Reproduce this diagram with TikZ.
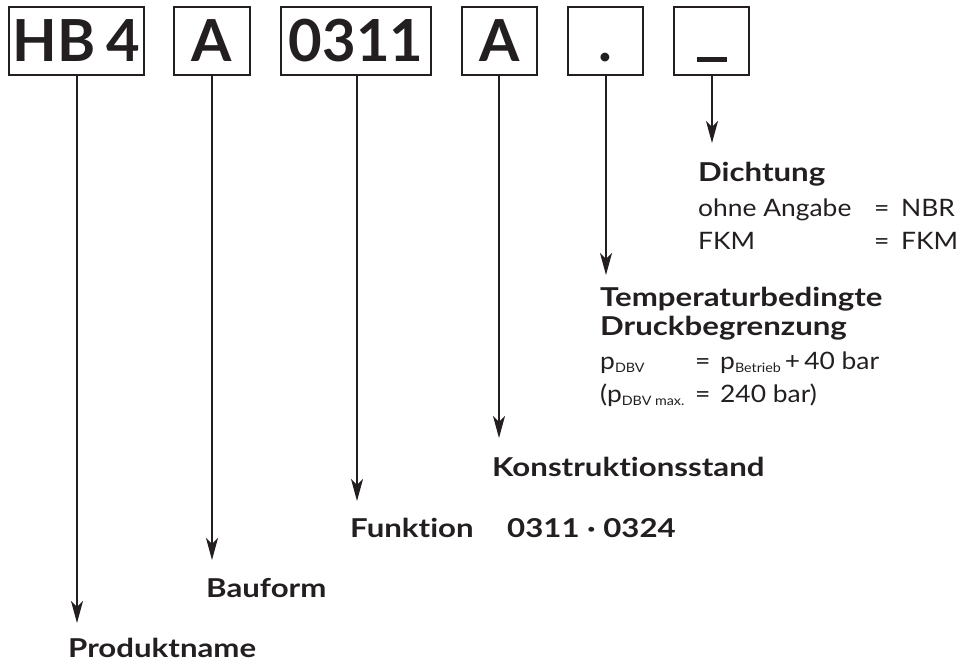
\documentclass[tikz,border=0pt]{standalone}
\usepackage{fontspec}
\setmainfont{Lato}[Ligatures=NoCommon]
\newfontfamily\headfont{Lato}[FakeStretch=1.2, Ligatures=NoCommon]
\newfontfamily\bodyfont{Lato}[FakeStretch=1.1, Ligatures=NoCommon]
\usetikzlibrary{arrows.meta}
\definecolor{ink}{RGB}{35,31,32}
\newcommand{\tabto}[2]{\makebox[#1][l]{#2}}
\newcommand{\idx}[1]{\raisebox{-3pt}{\fontsize{13pt}{14pt}\selectfont #1}}
\tikzset{
  kbox/.style={draw=ink, text=ink, line width=1.4pt, minimum height=68pt, inner sep=0pt,
    text height=42pt, text depth=0pt, font=\bfseries\fontsize{58pt}{60pt}\selectfont},
  head/.style={anchor=base west, inner sep=0pt, text=ink, font=\headfont\bfseries\fontsize{26pt}{28pt}\selectfont},
  body/.style={anchor=base west, inner sep=0pt, text=ink, font=\bodyfont\fontsize{24pt}{28pt}\selectfont},
  pfeil/.style={draw=ink, line width=1.3pt, -{Stealth[length=22pt, width=12pt, inset=6pt]}}
}
\begin{document}
\begin{tikzpicture}[x=1pt, y=-1pt]
  \useasboundingbox (0,0) rectangle (962,663);
  \node[kbox, minimum width=135pt] (hb) at (76.5,41) {HB\kern-3pt\ 4};
  \node[kbox, minimum width=76pt] (bau) at (212,41) {A};
  \node[kbox, minimum width=150pt] (fkt) at (356,41) {0311};
  \node[kbox, minimum width=75pt] (kst) at (499.5,41) {A};
  \node[kbox, minimum width=75pt] (dbv) at (605.5,41) {.};
  \node[kbox, minimum width=75pt] (dch) at (711.5,41) {\rule{30pt}{5pt}};

  \coordinate (hbend) at (77,623);
  \coordinate (bauend) at (212,560);
  \coordinate (fktend) at (357,501);
  \coordinate (kstend) at (499,438);
  \coordinate (dbvend) at (606,275);
  \coordinate (dchend) at (712,143);

  \draw[pfeil] (hb.south -| hbend) -- (hbend);
  \draw[pfeil] (bau.south -| bauend) -- (bauend);
  \draw[pfeil] (fkt.south -| fktend) -- (fktend);
  \draw[pfeil] (kst.south -| kstend) -- (kstend);
  \draw[pfeil] (dbv.south -| dbvend) -- (dbvend);
  \draw[pfeil] (dch.south -| dchend) -- (dchend);

  \node[head] (dichtung) at (698,182) {Dichtung};
  \node[body] (dichtungA) at (698,217) {\tabto{176pt}{ohne Angabe}\tabto{27pt}{=}NBR};
  \node[body] (dichtungB) at (698,250) {\tabto{176pt}{FKM}\tabto{27pt}{=}FKM};

  \node[head] (temp) at (600,307) {Temperaturbedingte};
  \node[head] (druck) at (600,336) {Druckbegrenzung};
  \node[body] (pdbv) at (600,370) {\tabto{95pt}{p\idx{DBV}}\tabto{25pt}{=}p\idx{Betrieb}\,+\,40 bar};
  \node[body] (pmax) at (600,402) {\tabto{95pt}{(p\idx{DBV max.}}\tabto{25pt}{=}240 bar)};

  \node[head] (konstr) at (492,476) {Konstruktionsstand};
  \node[head] (funktion) at (350,537) {\tabto{157pt}{Funktion}0311 · 0324};
  \node[head] (bauform) at (206,597) {Bauform};
  \node[head] (produkt) at (68,657) {Produktname};
\end{tikzpicture}
\end{document}
